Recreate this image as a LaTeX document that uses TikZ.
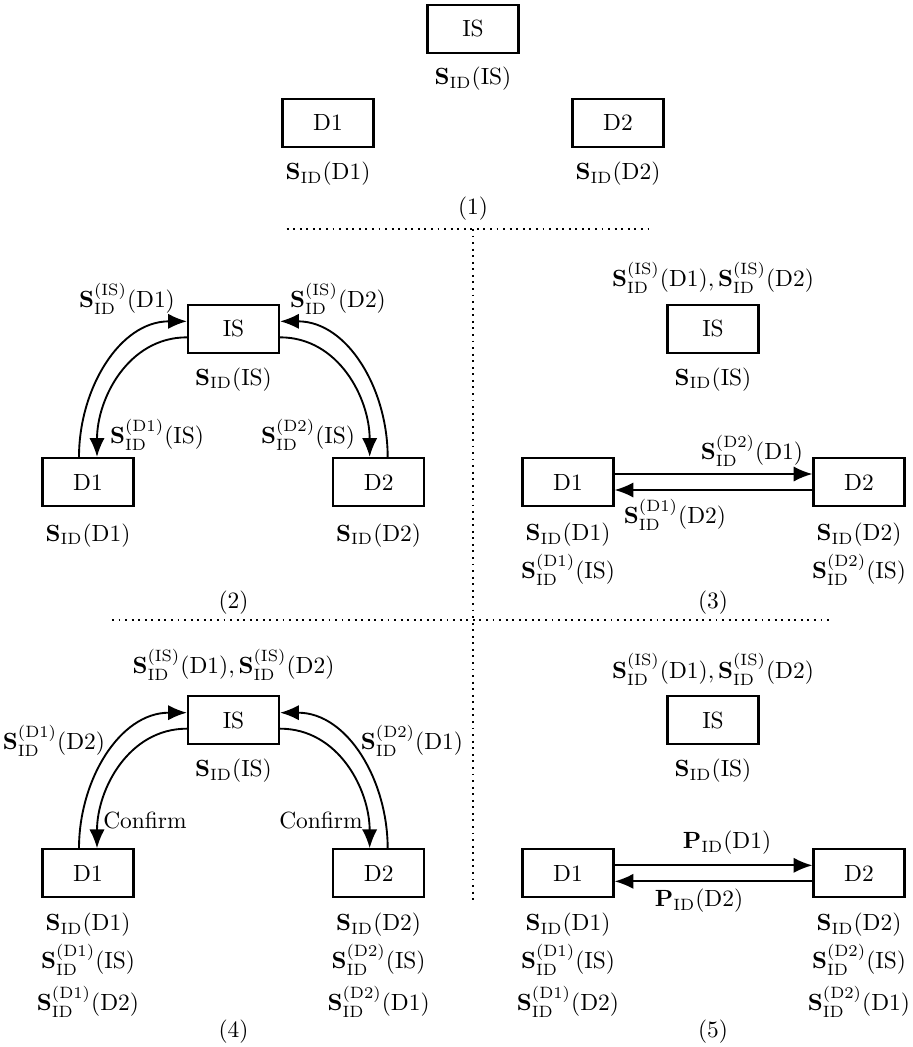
\documentclass[tikz,border=0pt]{standalone}
\usepackage{amsmath,amssymb}
\usetikzlibrary{arrows.meta}
\newcommand{\Sid}[1]{$\mathbf S_{\rm ID}(\mathrm{#1})$}
\newcommand{\Sidof}[2]{$\mathbf S_{\rm ID}^{(\mathrm{#1})}(\mathrm{#2})$}
\newcommand{\Sidboth}{$\mathbf S_{\rm ID}^{(\mathrm{IS})}(\mathrm{D1}),\mathbf S_{\rm ID}^{(\mathrm{IS})}(\mathrm{D2})$}
\newcommand{\Pid}[1]{$\mathbf P_{\rm ID}(\mathrm{#1})$}

\begin{document}
\begin{tikzpicture}[>={Latex[length=8pt,width=6.5pt]},
  box/.style={draw,line width=0.95pt,minimum width=1.365cm,minimum height=0.72cm,inner sep=0pt},
  msg/.style={line width=0.8pt,->},
  sep/.style={dotted,line width=0.8pt}]
  \useasboundingbox (0,0) rectangle (13.68,-15.705);

  % (1) initial identities
  \node[box] (isa) at (7.095,-0.43) {IS};
  \node[box] (d1a) at (4.92,-1.84) {D1};
  \node[box] (d2a) at (9.27,-1.84) {D2};
  \node (isa-s) at (7.095,-1.185) {\Sid{IS}};
  \node (d1a-s) at (4.92,-2.61) {\Sid{D1}};
  \node (d2a-s) at (9.27,-2.61) {\Sid{D2}};
  \node (cap-a) at (7.095,-3.135) {(1)};

  \draw[sep] (4.3,-3.435) -- (9.77,-3.435);
  \draw[sep] (7.095,-3.435) -- (7.095,-13.545);
  \draw[sep] (1.68,-9.3) -- (12.495,-9.3);

  % (2) and (4): exchange with IS
  \foreach \p/\y in {b/-4.93,d/-10.8}{
    \node[box] (is\p) at (3.5025,\y) {IS};
    \node[box] (d1\p) at (1.32,\y-2.3) {D1};
    \node[box] (d2\p) at (5.68,\y-2.3) {D2};
    \node (is\p-s) at (3.5025,\y-0.76) {\Sid{IS}};
    \draw[msg] ([xshift=-0.135cm]d1\p.north) to[out=90,in=180] ([yshift=0.11cm]is\p.west);
    \draw[msg] ([yshift=-0.13cm]is\p.west) to[out=180,in=90] ([xshift=0.135cm]d1\p.north);
    \draw[msg] ([xshift=0.135cm]d2\p.north) to[out=90,in=0] ([yshift=0.11cm]is\p.east);
    \draw[msg] ([yshift=-0.13cm]is\p.east) to[out=0,in=90] ([xshift=-0.135cm]d2\p.north);
  }
  \node (up1b) at (1.905,-4.485) {\Sidof{IS}{D1}};
  \node (up2b) at (5.07,-4.485) {\Sidof{IS}{D2}};
  \node (dn1b) at (2.355,-6.525) {\Sidof{D1}{IS}};
  \node (dn2b) at (4.62,-6.525) {\Sidof{D2}{IS}};
  \node (d1b-s) at (1.32,-8.03) {\Sid{D1}};
  \node (d2b-s) at (5.68,-8.03) {\Sid{D2}};
  \node (cap-b) at (3.5025,-9.045) {(2)};

  % (3) and (5): D1 <-> D2
  \foreach \p/\y in {c/-4.93,e/-10.8}{
    \node (top\p) at (10.695,\y+0.76) {\Sidboth};
    \node[box] (is\p) at (10.695,\y) {IS};
    \node[box] (d1\p) at (8.52,\y-2.3) {D1};
    \node[box] (d2\p) at (12.885,\y-2.3) {D2};
    \node (is\p-s) at (10.695,\y-0.76) {\Sid{IS}};
    \draw[msg] ([yshift=0.12cm]d1\p.east) -- ([yshift=0.12cm]d2\p.west);
    \draw[msg] ([yshift=-0.12cm]d2\p.west) -- ([yshift=-0.12cm]d1\p.east);
  }
  \node (upc) at (11.28,-6.76) {\Sidof{D2}{D1}};
  \node (dnc) at (10.125,-7.725) {\Sidof{D1}{D2}};
  \node (d1c-s) at (8.52,-8.025) {\Sid{D1}};
  \node (d1c-t) at (8.52,-8.55) {\Sidof{D1}{IS}};
  \node (d2c-s) at (12.885,-8.025) {\Sid{D2}};
  \node (d2c-t) at (12.885,-8.55) {\Sidof{D2}{IS}};
  \node (cap-c) at (10.695,-9.045) {(3)};

  \node (topd) at (3.5025,-9.975) {\Sidboth};
  \node (up1d) at (0.81,-11.115) {\Sidof{D1}{D2}};
  \node (up2d) at (6.18,-11.115) {\Sidof{D2}{D1}};
  \node (dn1d) at (2.175,-12.3) {Confirm};
  \node (dn2d) at (4.815,-12.3) {Confirm};

  \node (upe) at (10.905,-12.645) {\Pid{D1}};
  \node (dne) at (10.485,-13.515) {\Pid{D2}};

  % stored identities under D1 and D2
  \foreach \p/\xa/\xb in {d/1.32/5.68,e/8.52/12.885}{
    \node (d1\p-s) at (\xa,-13.875) {\Sid{D1}};
    \node (d1\p-t) at (\xa,-14.4) {\Sidof{D1}{IS}};
    \node (d1\p-u) at (\xa,-15.03) {\Sidof{D1}{D2}};
    \node (d2\p-s) at (\xb,-13.875) {\Sid{D2}};
    \node (d2\p-t) at (\xb,-14.4) {\Sidof{D2}{IS}};
    \node (d2\p-u) at (\xb,-15.03) {\Sidof{D2}{D1}};
  }
  \node (cap-d) at (3.5025,-15.48) {(4)};
  \node (cap-e) at (10.695,-15.48) {(5)};
\end{tikzpicture}
\end{document}
